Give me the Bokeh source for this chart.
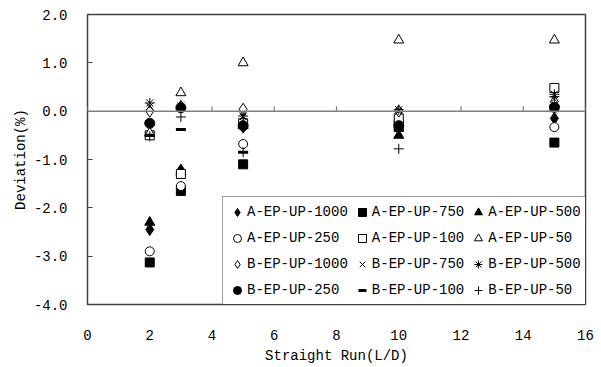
from bokeh.plotting import figure
from bokeh.models import FixedTicker, PrintfTickFormatter, Span, Legend, LegendItem
from bokeh.embed import file_html
from bokeh.resources import INLINE

# ---- data ----
straight_run = [2, 3, 5, 10, 15]
x_ticks = [0, 2, 4, 6, 8, 10, 12, 14, 16]
y_ticks = [-4, -3, -2, -1, 0, 1, 2]

a_ep_up_1000 = [-2.45, -1.22, -0.33, -0.25, -0.15]
a_ep_up_750 = [-3.13, -1.65, -1.10, -0.30, -0.65]
a_ep_up_500 = [-2.30, -1.25, -0.30, -0.50, 0.05]
a_ep_up_250 = [-2.90, -1.55, -0.68, -0.20, -0.33]
a_ep_up_100 = [-0.50, -1.30, -0.25, -0.15, 0.48]
a_ep_up_50 = [-0.45, 0.38, 1.00, 1.47, 1.47]
b_ep_up_1000 = [0.00, 0.10, 0.04, 0.00, 0.20]
b_ep_up_750 = [0.10, 0.05, -0.12, 0.00, 0.25]
b_ep_up_500 = [0.17, 0.10, -0.10, 0.03, 0.35]
b_ep_up_250 = [-0.25, 0.07, -0.30, -0.30, 0.08]
b_ep_up_100 = [-0.50, -0.38, -0.85, -0.40, 0.10]
b_ep_up_50 = [-0.52, -0.12, -0.85, -0.78, 0.30]

series_names = ["A-EP-UP-1000", "A-EP-UP-750", "A-EP-UP-500",
                "A-EP-UP-250", "A-EP-UP-100", "A-EP-UP-50",
                "B-EP-UP-1000", "B-EP-UP-750", "B-EP-UP-500",
                "B-EP-UP-250", "B-EP-UP-100", "B-EP-UP-50"]
series_values = [a_ep_up_1000, a_ep_up_750, a_ep_up_500,
                 a_ep_up_250, a_ep_up_100, a_ep_up_50,
                 b_ep_up_1000, b_ep_up_750, b_ep_up_500,
                 b_ep_up_250, b_ep_up_100, b_ep_up_50]

# ---- styles ----
FONT = "Liberation Mono"
styles = [
    dict(marker="diamond", size=12, fill_color="black", line_color="black"),
    dict(marker="square", size=9, fill_color="black", line_color="black"),
    dict(marker="triangle", size=10, fill_color="black", line_color="black"),
    dict(marker="circle", size=9, fill_color="white", line_color="black"),
    dict(marker="square", size=9, fill_color="white", line_color="black"),
    dict(marker="triangle", size=10, fill_color="white", line_color="black"),
    dict(marker="diamond", size=12, fill_color="white", line_color="black"),
    dict(marker="x", size=9, fill_color=None, line_color="black"),
    dict(marker="asterisk", size=10, fill_color=None, line_color="black"),
    dict(marker="circle", size=10, fill_color="black", line_color="black"),
    dict(marker="dash", size=10, fill_color=None, line_color="black", line_width=3),
    dict(marker="cross", size=10, fill_color=None, line_color="black"),
]

p = figure(width=601, height=367, x_range=(0, 16), y_range=(-4, 2),
           output_backend="svg", toolbar_location=None,
           min_border_left=87, min_border_right=16,
           min_border_top=14, min_border_bottom=63)

p.background_fill_color = "white"
p.border_fill_color = "white"
p.outline_line_color = "#404040"
p.outline_line_width = 1.5
p.xgrid.grid_line_color = None
p.ygrid.grid_line_color = None

# zero line with upward ticks
p.add_layout(Span(location=0, dimension="width", line_color="#7f7f7f", line_width=1.5))
p.segment(x0=x_ticks, y0=[0] * len(x_ticks), x1=x_ticks, y1=[0.1] * len(x_ticks),
          line_color="#7f7f7f", line_width=1.2)

# x axis (labels at bottom)
p.xaxis.ticker = FixedTicker(ticks=x_ticks)
p.xaxis.axis_line_color = None
p.xaxis.major_tick_in = 0
p.xaxis.major_tick_out = 0
p.xaxis.minor_tick_line_color = None
p.xaxis.major_label_standoff = 25
p.xaxis.axis_label = "Straight Run(L/D)"
p.xaxis.axis_label_standoff = 5

# y axis
p.yaxis.ticker = FixedTicker(ticks=y_ticks)
p.yaxis.formatter = PrintfTickFormatter(format="%.1f")
p.yaxis.axis_line_color = None
p.yaxis.major_tick_in = 5
p.yaxis.major_tick_out = 0
p.yaxis.major_tick_line_color = "#404040"
p.yaxis.minor_tick_line_color = None
p.yaxis.major_label_standoff = 20
p.yaxis.axis_label = "Deviation(%)"
p.yaxis.axis_label_standoff = 2

for ax in (p.xaxis, p.yaxis):
    ax.major_label_text_font = FONT
    ax.major_label_text_font_size = "14px"
    ax.major_label_text_color = "black"
    ax.axis_label_text_font = FONT
    ax.axis_label_text_font_size = "14px"
    ax.axis_label_text_font_style = "normal"
    ax.axis_label_text_color = "black"

items = []
for name, vals, st in zip(series_names, series_values, styles):
    r = p.scatter(x=straight_run, y=vals, **st)
    items.append(LegendItem(label=name, renderers=[r]))

# legend fills column by column: reorder so it reads row by row (3 per row)
n_cols = 3
legend_items = [items[i] for c in range(n_cols) for i in range(c, len(items), n_cols)]

legend = Legend(items=legend_items, ncols=n_cols, location=(135, -2),
                label_text_font=FONT, label_text_font_size="14px",
                label_text_color="black",
                glyph_width=20, glyph_height=22, label_height=22,
                label_standoff=0, spacing=4, padding=4,
                border_line_color="#404040", border_line_width=1.2,
                background_fill_color="white", background_fill_alpha=1.0)
p.add_layout(legend, "center")

open("out.html", "w").write(file_html(p, INLINE))
